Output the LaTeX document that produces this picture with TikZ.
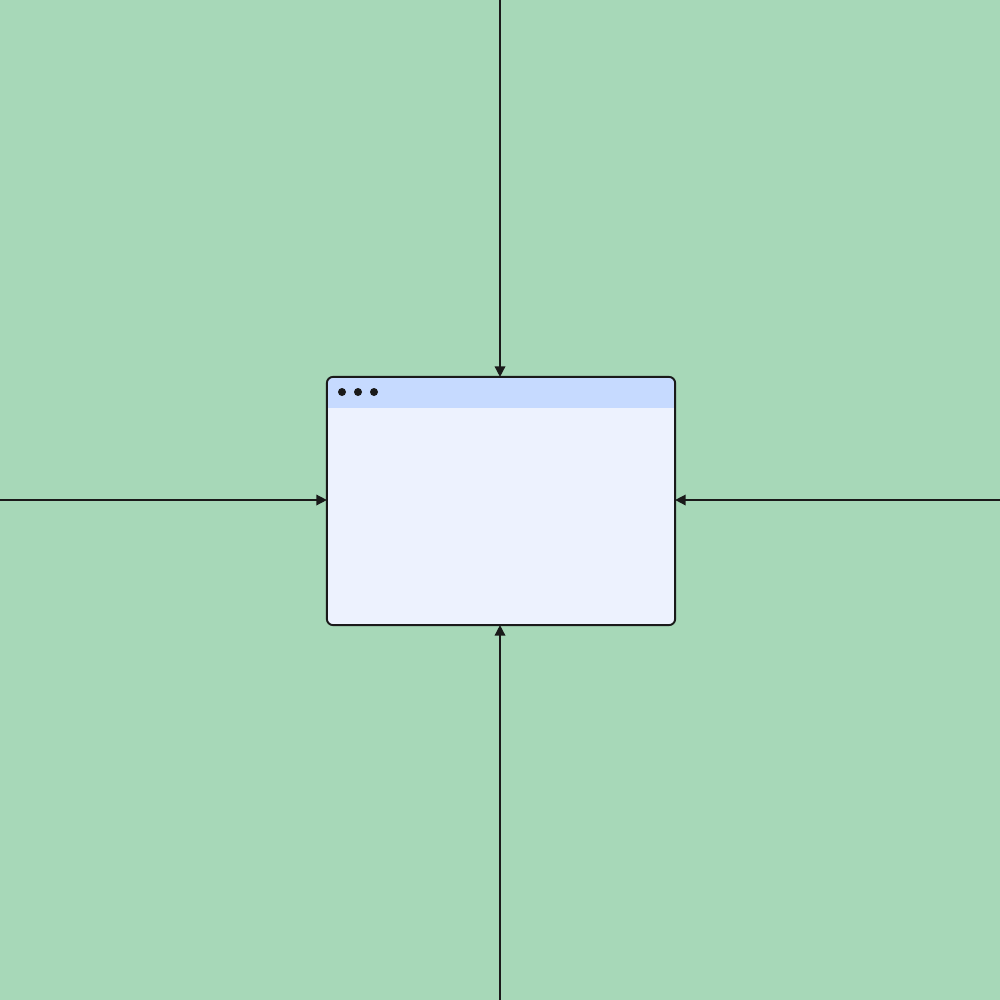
\documentclass[tikz,border=0pt]{standalone}
\usetikzlibrary{arrows.meta}
\definecolor{bg}{HTML}{A7D8B8}
\definecolor{bar}{HTML}{C6DAFF}
\definecolor{body}{HTML}{EDF2FE}
\definecolor{ink}{HTML}{1A1A1A}
\tikzset{
  conn/.style={draw=ink, line width=0.45pt, -{Triangle[length=3pt,width=3pt]}},
  winr/.style={rounded corners=1.7pt},
  winbox/.style={fill=body, winr, inner sep=0pt, outer sep=0pt,
    minimum width=3.48cm, minimum height=2.48cm},
}
\begin{document}
\begin{tikzpicture}[x=0.01cm,y=-0.01cm]
\fill[bg] (0,0) rectangle (1000,1000);
\useasboundingbox (0,0) rectangle (1000,1000);
% window
\node[winbox] (win) at (501,501) {};
\begin{scope}
\clip[winr] (win.north west) rectangle (win.south east);
\fill[bar] (win.north west) rectangle ([yshift=-0.31cm]win.north east);
\end{scope}
\draw[ink, line width=0.55pt, winr] (win.north west) rectangle (win.south east);
\foreach \x in {342,358,374} \fill[ink] (\x,392) circle (4);
% connectors
\coordinate (t) at (500,0);
\coordinate (b) at (500,1000);
\coordinate (l) at (0,500);
\coordinate (r) at (1000,500);
\draw[conn] (t) -- (t |- win.north);
\draw[conn] (b) -- (b |- win.south);
\draw[conn] (l) -- (l -| win.west);
\draw[conn] (r) -- (r -| win.east);
\end{tikzpicture}
\end{document}
